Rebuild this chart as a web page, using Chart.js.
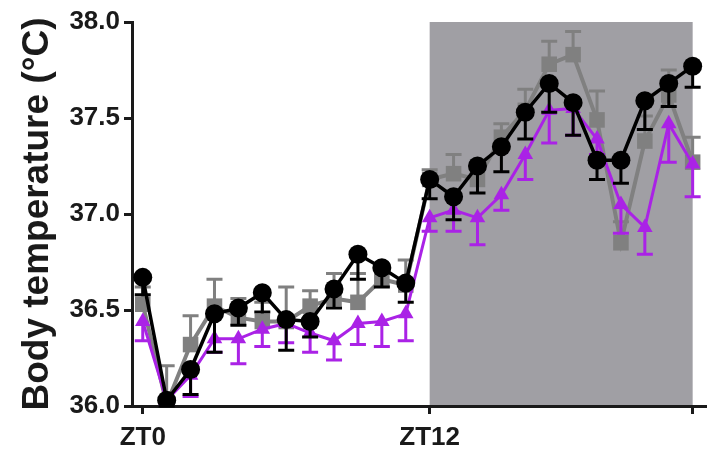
<!DOCTYPE html>
<html>
<head>
<meta charset="utf-8">
<script src="https://cdn.jsdelivr.net/npm/chart.js@4.4.0/dist/chart.umd.min.js"></script>
<style>
  html, body { margin: 0; padding: 0; background: #fff; }
  #wrap { width: 707px; height: 451px; }
</style>
</head>
<body>
<div id="wrap"><canvas id="chart"></canvas></div>
<script>
// hours after lights on (ZT)
const hours = [0,1,2,3,4,5,6,7,8,9,10,11,12,13,14,15,16,17,18,19,20,21,22,23];
const tickHours = [0, 12, 23];
const tickLabels = ['ZT0', 'ZT12', ''];
const darkStart = 12, darkEnd = 23;

// black circles, error bars drawn downward
const blackMean = [36.67,36.03,36.19,36.48,36.51,36.59,36.45,36.44,36.61,36.79,36.72,36.64,37.18,37.09,37.25,37.35,37.53,37.68,37.58,37.28,37.28,37.59,37.68,37.77];
const blackErr  = [0.09,0.03,0.13,0.20,0.09,0.10,0.16,0.08,0.10,0.13,0.10,0.10,0.10,0.12,0.14,0.13,0.14,0.15,0.17,0.10,0.12,0.15,0.12,0.11];

// grey squares, error bars drawn upward
const greyMean = [36.53,36.01,36.32,36.52,36.46,36.44,36.44,36.52,36.56,36.54,36.66,36.63,37.18,37.21,37.18,37.40,37.54,37.78,37.83,37.49,36.85,37.38,37.62,37.27];
const greyErr  = [0.09,0.20,0.15,0.14,0.10,0.10,0.18,0.08,0.13,0.15,0.08,0.13,0.05,0.10,0.06,0.07,0.11,0.12,0.12,0.15,0.11,0.13,0.13,0.13];

// purple triangles, error bars drawn downward
const purpleMean = [36.44,36.03,36.16,36.35,36.35,36.40,36.43,36.38,36.34,36.43,36.44,36.48,36.98,37.02,36.98,37.10,37.31,37.54,37.55,37.39,37.05,36.93,37.47,37.26];
const purpleErr  = [0.10,0.02,0.11,0.07,0.13,0.09,0.10,0.10,0.10,0.11,0.13,0.14,0.07,0.11,0.14,0.08,0.13,0.17,0.14,0.08,0.15,0.14,0.20,0.17];

const FONT = "'Liberation Sans', Arial, Helvetica, sans-serif";
const INK = '#1a1a1a';
const BLACK = '#000000', GREY = '#808080', PURPLE = '#aa22e6';

function pts(vals) { return hours.map((h, i) => ({ x: h, y: vals[i] })); }

// grey box behind the dark phase
const darkPhase = {
  id: 'darkPhase',
  beforeDraw(chart) {
    const { ctx, chartArea, scales } = chart;
    const x0 = scales.x.getPixelForValue(darkStart);
    const x1 = scales.x.getPixelForValue(darkEnd);
    ctx.save();
    ctx.fillStyle = '#a09fa4';
    ctx.fillRect(x0, chartArea.top, x1 - x0, chartArea.bottom - chartArea.top);
    ctx.restore();
  }
};

// one-sided error bars, drawn just before each dataset's markers
const errorBars = {
  id: 'errorBars',
  beforeDatasetDraw(chart, args) {
    const ds = chart.data.datasets[args.index];
    const yScale = chart.scales.y;
    const ctx = chart.ctx;
    ctx.save();
    ctx.strokeStyle = ds.borderColor;
    ctx.lineWidth = 3;
    args.meta.data.forEach((el, i) => {
      const end = yScale.getPixelForValue(ds.data[i].y + ds.errDir * ds.err[i]);
      ctx.beginPath();
      ctx.moveTo(el.x, el.y);
      ctx.lineTo(el.x, end);
      ctx.moveTo(el.x - 8, end);
      ctx.lineTo(el.x + 8, end);
      ctx.stroke();
    });
    ctx.restore();
  }
};

new Chart(document.getElementById('chart'), {
  type: 'line',
  data: {
    datasets: [
      {
        label: 'black', data: pts(blackMean), err: blackErr, errDir: -1, order: 0,
        borderColor: BLACK, backgroundColor: BLACK, borderWidth: 3.5,
        pointStyle: 'circle', pointRadius: 9.5, pointBorderWidth: 0
      },
      {
        label: 'purple', data: pts(purpleMean), err: purpleErr, errDir: -1, order: 1,
        borderColor: PURPLE, backgroundColor: PURPLE, borderWidth: 3,
        pointStyle: 'triangle', pointRadius: 9, pointBorderWidth: 0
      },
      {
        label: 'grey', data: pts(greyMean), err: greyErr, errDir: 1, order: 2,
        borderColor: GREY, backgroundColor: GREY, borderWidth: 4,
        pointStyle: 'rect', pointRadius: 11, pointBorderWidth: 0
      }
    ]
  },
  options: {
    responsive: true,
    maintainAspectRatio: false,
    animation: false,
    layout: { autoPadding: false, padding: { top: 22, right: 0, bottom: 0, left: 0 } },
    plugins: { legend: { display: false }, tooltip: { enabled: false } },
    scales: {
      x: {
        type: 'linear', min: -0.45, max: 23.6,
        afterBuildTicks(scale) { scale.ticks = tickHours.map(v => ({ value: v })); },
        afterFit(scale) { scale.height = 45; scale.paddingRight = 0; scale.paddingLeft = 0; },
        ticks: {
          callback: (v) => tickLabels[tickHours.indexOf(v)],
          color: INK, font: { family: FONT, size: 26, weight: 'bold' },
          padding: 8, maxRotation: 0, autoSkip: false
        },
        grid: { drawOnChartArea: false, drawTicks: true, tickLength: 8, tickWidth: 3, tickColor: INK },
        border: { display: true, color: INK, width: 3 }
      },
      y: {
        min: 36, max: 38,
        afterFit(scale) { scale.width = 132; },
        ticks: {
          stepSize: 0.5,
          callback: (v) => v.toFixed(1),
          color: INK, font: { family: FONT, size: 26, weight: 'bold' }, padding: 4
        },
        grid: { drawOnChartArea: false, drawTicks: true, tickLength: 8, tickWidth: 3, tickColor: INK },
        border: { display: true, color: INK, width: 3 },
        title: {
          display: true, text: 'Body temperature (°C)', color: INK,
          font: { family: FONT, size: 37, weight: 'bold' }, padding: { top: 16, bottom: 0 }
        }
      }
    }
  },
  plugins: [darkPhase, errorBars]
});
</script>
</body>
</html>
